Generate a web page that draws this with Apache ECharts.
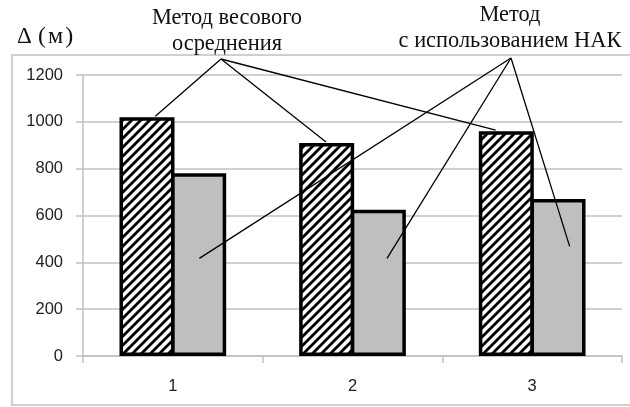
<!DOCTYPE html>
<html>
<head>
<meta charset="utf-8">
<script src="https://cdn.jsdelivr.net/npm/echarts@6/dist/echarts.min.js"></script>
<style>html,body{margin:0;padding:0;background:#fff;}#c{width:630px;height:407px;}</style>
</head>
<body>
<div id="c"></div>
<script>
// ---- data ----
const categories = ['1', '2', '3'];
const weightedValues = [1020, 910, 960];      // Метод весового осреднения
const nakValues = [780, 625, 670];            // Метод с использованием НАК
const yTickValues = [0, 200, 400, 600, 800, 1000, 1200];
// values at which the annotation leader lines touch the bars
const weightedAnchorValues = [1020, 910, 960];
const nakAnchorValues = [417, 417, 468];

// ---- hatch pattern ----
function makeHatch() {
  const s = 9;
  const c = document.createElement('canvas');
  c.width = s; c.height = s;
  const g = c.getContext('2d');
  g.fillStyle = '#fff';
  g.fillRect(0, 0, s, s);
  g.strokeStyle = '#000';
  g.lineWidth = 2.8;
  g.beginPath();
  g.moveTo(-2, s + 2); g.lineTo(s + 2, -2);
  g.moveTo(-2, 2); g.lineTo(2, -2);
  g.moveTo(s - 2, s + 2); g.lineTo(s + 2, s - 2);
  g.stroke();
  return c;
}

const chart = echarts.init(document.getElementById('c'), null, { renderer: 'canvas' });
const barW = 55;
const barGap = '-6%';
const gridCol = '#c0c0c0';

chart.setOption({
  animation: false,
  grid: { left: 83, right: 8, top: 75, bottom: 51, containLabel: false },
  xAxis: {
    type: 'category',
    data: categories,
    axisLine: { lineStyle: { color: gridCol, width: 1.5 } },
    axisTick: { show: true, length: 7, lineStyle: { color: gridCol, width: 1.5 } },
    axisLabel: { margin: 22, fontSize: 16.5, color: '#222', fontFamily: 'Liberation Sans' }
  },
  yAxis: {
    type: 'value',
    min: 0, max: 1200, interval: 200,
    axisLine: { show: true, lineStyle: { color: gridCol, width: 1.5 } },
    axisTick: { show: true, length: 7, lineStyle: { color: gridCol, width: 1.5 } },
    splitLine: { show: true, lineStyle: { color: gridCol, width: 1.5 } },
    axisLabel: {
      margin: 20, fontSize: 16.5, color: '#222', fontFamily: 'Liberation Sans',
      formatter: v => (yTickValues.indexOf(v) >= 0 ? String(v) : '')
    }
  },
  series: [
    {
      type: 'bar', name: 'Метод весового осреднения', data: weightedValues,
      barWidth: barW, barGap: barGap,
      itemStyle: { color: { image: makeHatch(), repeat: 'repeat' }, borderColor: '#000', borderWidth: 3.5 }
    },
    {
      type: 'bar', name: 'Метод с использованием НАК', data: nakValues,
      barWidth: barW, barGap: barGap,
      itemStyle: { color: '#bfbfbf', borderColor: '#000', borderWidth: 3.5 }
    }
  ]
});

// ---- annotations ----
const serif = '22.4px "Liberation Serif"';
const originA = [221, 59];
const originB = [511, 58];
const offA = [10, 1, -9];
const offB = [-1, 7, 10];
const gfx = [
  { type: 'rect', shape: { x: 12, y: 55, width: 630, height: 350 }, style: { fill: 'none', stroke: '#d0d0d0', lineWidth: 2.2 }, z: -1, silent: true },
  { type: 'text', style: { text: 'Δ', x: 17, y: 37, font: '23px "Liberation Serif"', fill: '#111', textAlign: 'left', textVerticalAlign: 'middle' } },
  { type: 'text', style: { text: '(\u200Aм\u200A)', x: 38, y: 37, font: '24px "Liberation Serif"', fill: '#111', textAlign: 'left', textVerticalAlign: 'middle' } },
  { type: 'text', style: { text: 'Метод весового', x: 227, y: 18, font: serif, fill: '#111', textAlign: 'center', textVerticalAlign: 'middle' } },
  { type: 'text', style: { text: 'осреднения', x: 227, y: 44, font: serif, fill: '#111', textAlign: 'center', textVerticalAlign: 'middle' } },
  { type: 'text', style: { text: 'Метод', x: 510, y: 15, font: serif, fill: '#111', textAlign: 'center', textVerticalAlign: 'middle' } },
  { type: 'text', style: { text: 'с использованием НАК', x: 510, y: 41, font: serif, fill: '#111', textAlign: 'center', textVerticalAlign: 'middle' } }
];
const halfStep = barW / 2;
categories.forEach((cat, i) => {
  const pA = chart.convertToPixel({ xAxisIndex: 0, yAxisIndex: 0 }, [i, weightedAnchorValues[i]]);
  const pB = chart.convertToPixel({ xAxisIndex: 0, yAxisIndex: 0 }, [i, nakAnchorValues[i]]);
  gfx.push({ type: 'line', z: 100, shape: { x1: originA[0], y1: originA[1], x2: pA[0] - halfStep + offA[i], y2: pA[1] - 1 }, style: { stroke: '#000', lineWidth: 1.3 } });
  gfx.push({ type: 'line', z: 100, shape: { x1: originB[0], y1: originB[1], x2: pB[0] + halfStep + offB[i], y2: pB[1] }, style: { stroke: '#000', lineWidth: 1.3 } });
});
chart.setOption({ graphic: gfx });
</script>
</body>
</html>
